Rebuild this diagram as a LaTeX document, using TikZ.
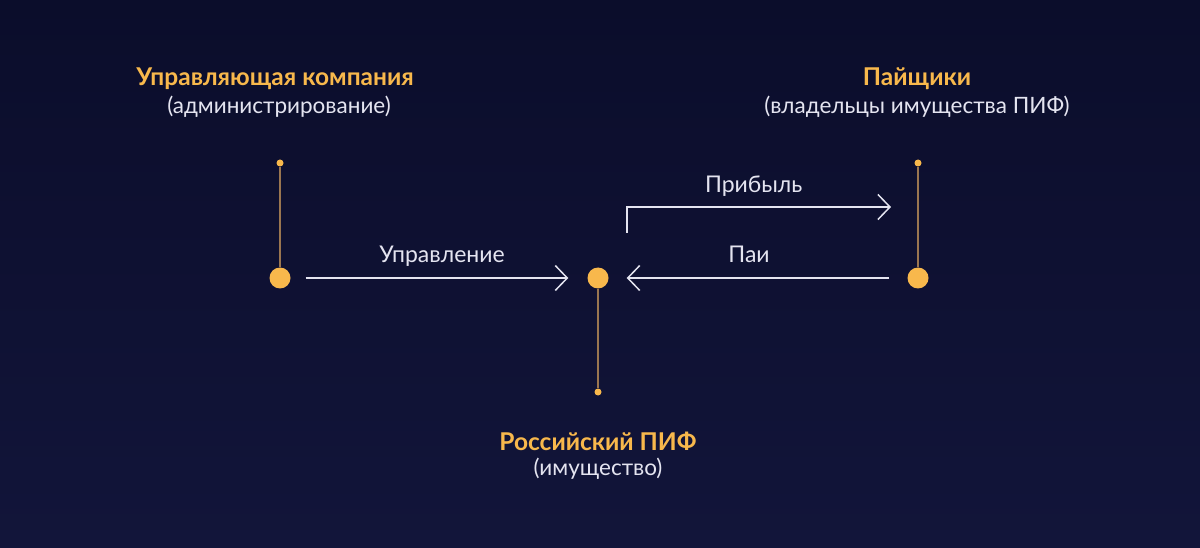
\documentclass[tikz,border=0pt]{standalone}
\usepackage{fontspec}
\setmainfont{Lato}
\usetikzlibrary{arrows.meta}
\definecolor{bgtop}{HTML}{0B0D2B}
\definecolor{bgbot}{HTML}{12153A}
\definecolor{gold}{HTML}{F8B84C}
\definecolor{stem}{HTML}{9A7650}
\definecolor{pale}{HTML}{E4E4F0}
\begin{document}
\begin{tikzpicture}[x=1pt, y=-1pt, >={Straight Barb[length=12pt, width=25pt, line width=1.5pt]},
	bigdot/.style={circle, fill=gold, inner sep=0pt, minimum size=21pt},
	smalldot/.style={circle, fill=gold, inner sep=0pt, minimum size=7pt},
	title/.style={text=gold, font=\fontsize{24.5}{28}\selectfont\bfseries},
	sub/.style={text=pale, font=\fontsize{22.5}{26}\selectfont},
	lbl/.style={text=pale, font=\fontsize{23}{26}\selectfont, text height=16pt, text depth=5pt},
	flow/.style={pale, line width=1.5pt, ->}]
				\shade[top color=bgtop, bottom color=bgbot] (0,0) rectangle (1200,548);
				\path (280,278) node[bigdot] (UK) {} (280,163) node[smalldot] (UKtop) {}
				(598,278) node[bigdot] (PIF) {} (598,392) node[smalldot] (PIFbot) {}
				(918,278) node[bigdot] (PA) {} (918,163) node[smalldot] (PAtop) {}
				(627,233) coordinate (pr0) (891,207) coordinate (pr1);
				\foreach \a/\b in {UK/UKtop, PIF/PIFbot, PA/PAtop}{
				\draw[stem, line width=1.2pt] (\a)--(\b);
				}
				\draw[flow, shorten <=15pt, shorten >=19pt] (UK)--(PIF) node[lbl, pos=0.51, above=6pt] (upr) {Управление};
				\draw[flow, shorten <=18pt, shorten >=18pt] (PA)--(PIF) node[lbl, pos=0.53, above=6pt] (pai) {Паи};
				\draw[flow] (pr0) |- (pr1) node[lbl, pos=0.74, above=5pt] (prib) {Прибыль};
				\node[title] (UKname) at (275,79) {Управляющая компания};
				\node[sub] (UKsub) at (279,107) {(администрирование)};
				\node[title] (PAname) at (917,79) {Пайщики};
				\node[sub] (PAsub) at (917,107) {(владельцы имущества ПИФ)};
				\node[title] (PIFname) at (598,441) {Российский ПИФ};
				\node[sub] (PIFsub) at (598,469) {(имущество)};
			\end{tikzpicture}
\end{document}
